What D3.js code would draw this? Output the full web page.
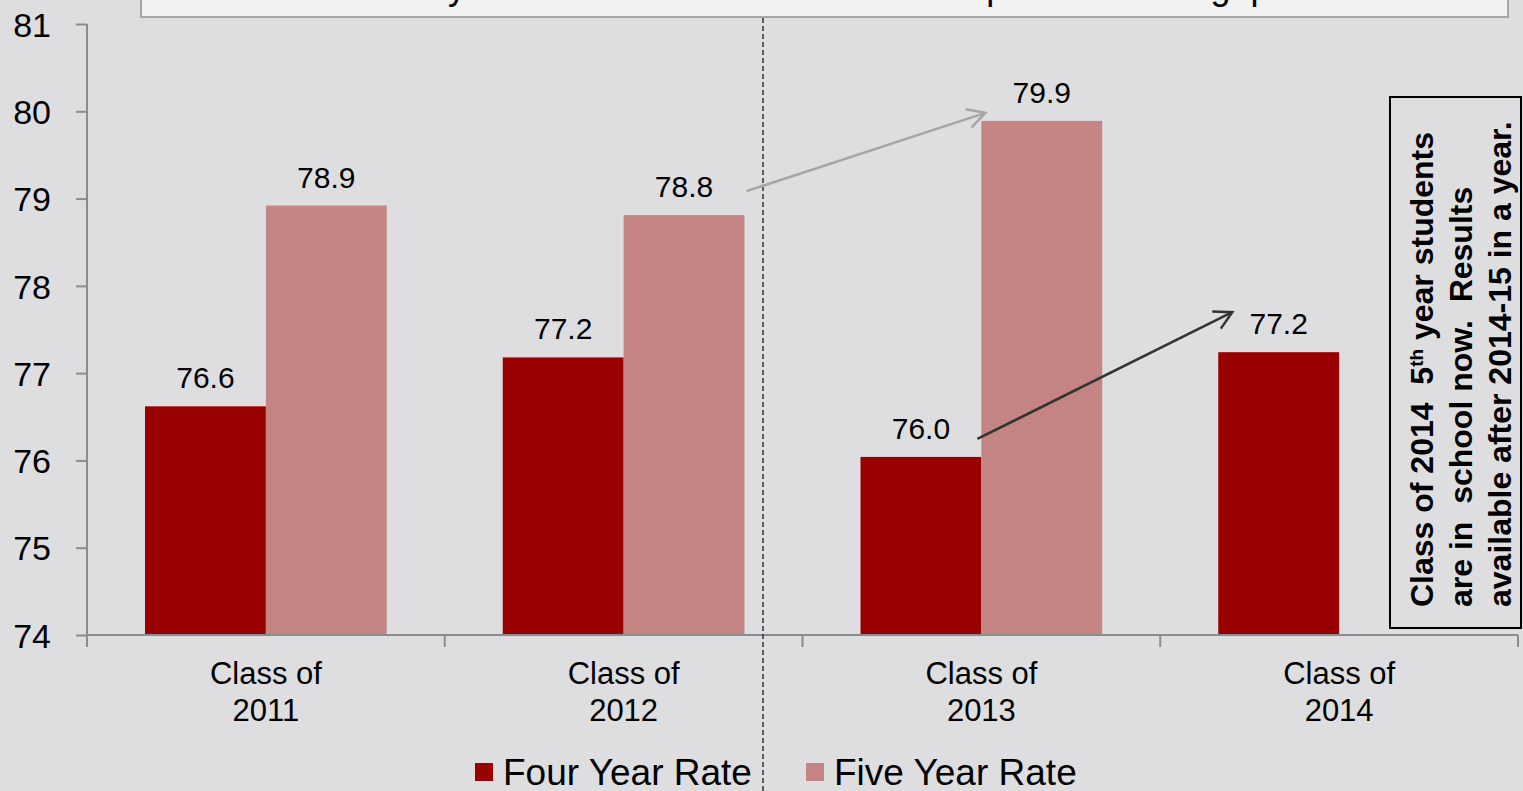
<!DOCTYPE html>
<html>
<head>
<meta charset="utf-8">
<title>Four and five year graduation rates</title>
<script src="https://d3js.org/d3.v7.min.js"></script>
<style>
  body { margin: 0; background: #dedee0; overflow: hidden; }
  svg { display: block; font-family: "Liberation Sans", Arial, sans-serif; }
  .note text { white-space: pre; }
</style>
</head>
<body>
<svg id="chart"></svg>
<script>
// data
var categories = ["Class of 2011", "Class of 2012", "Class of 2013", "Class of 2014"];
var seriesNames = ["Four Year Rate", "Five Year Rate"];
var fourYear = [76.62, 77.18, 76.04, 77.24];
var fiveYear = [78.92, 78.81, 79.89, null];
var yTicks = [74, 75, 76, 77, 78, 79, 80, 81];
var titleText = "A fifth year in school lifts the 2013 rate up to close the gap";
var noteLines = ["are in  school now.  Results", "available after 2014-15 in a year."];

var width = 1523, height = 791;
var colors = ["#990000", "#c48483"];

var svg = d3.select("#chart").attr("width", width).attr("height", height);
svg.append("rect").attr("width", width).attr("height", height).attr("fill", "#dedee0");

// scales
var x0 = d3.scaleBand().domain(categories).range([87, 1518]).paddingInner(0).paddingOuter(0);
var x1 = d3.scaleBand().domain(seriesNames).range([0, x0.bandwidth()]).paddingInner(0).paddingOuter(0.48);
var y = d3.scaleLinear().domain([74, 81]).range([635, 24]);
var fmt = d3.format(".1f");

// rows for bars
var rows = [];
categories.forEach(function(c, i) {
  rows.push({cat: c, series: seriesNames[0], value: fourYear[i]});
  if (fiveYear[i] != null) rows.push({cat: c, series: seriesNames[1], value: fiveYear[i]});
});

// title box at top (mostly cut off)
var clip = svg.append("clipPath").attr("id", "titleclip");
clip.append("rect").attr("x", 141).attr("y", 0).attr("width", 1367).attr("height", 17);
svg.append("rect")
    .attr("x", 141).attr("y", -5).attr("width", 1367).attr("height", 22)
    .attr("fill", "#f2f2f2").attr("stroke", "#a6a6a6").attr("stroke-width", 2);
svg.append("text")
    .attr("clip-path", "url(#titleclip)")
    .attr("x", 348).attr("y", -1)
    .style("font-size", "36px").attr("fill", "#000")
    .text(titleText);

// bars
svg.selectAll(".bar")
    .data(rows)
    .enter().append("rect")
    .attr("class", "bar")
    .attr("x", function(d) { return x0(d.cat) + x1(d.series); })
    .attr("y", function(d) { return y(d.value); })
    .attr("width", x1.bandwidth())
    .attr("height", function(d) { return y(74) - y(d.value); })
    .attr("fill", function(d) { return colors[seriesNames.indexOf(d.series)]; });

// value labels
svg.selectAll(".val")
    .data(rows)
    .enter().append("text")
    .attr("class", "val")
    .attr("x", function(d) { return x0(d.cat) + x1(d.series) + x1.bandwidth() / 2; })
    .attr("y", function(d) { return y(d.value) - 18; })
    .attr("text-anchor", "middle")
    .style("font-size", "30px")
    .text(function(d) { return fmt(d.value); });

// y axis
var yAxis = svg.append("g")
    .attr("transform", "translate(87,0)")
    .call(d3.axisLeft(y).tickValues(yTicks).tickFormat(d3.format("d"))
      .tickSize(11).tickSizeOuter(0).tickPadding(25));
yAxis.select(".domain").attr("stroke", "#8c8c8c").attr("stroke-width", 2).attr("d", "M0,24V647");
yAxis.selectAll(".tick line").attr("stroke", "#8c8c8c").attr("stroke-width", 2);
yAxis.selectAll(".tick text").style("font-size", "34px").attr("fill", "#000")
    .attr("font-family", "Liberation Sans, Arial, sans-serif").attr("dy", "0.36em");

// x axis: line plus ticks on band edges
svg.append("line")
    .attr("x1", 87).attr("x2", 1518).attr("y1", y(74)).attr("y2", y(74))
    .attr("stroke", "#8c8c8c").attr("stroke-width", 2);
svg.selectAll(".xtick")
    .data(categories.slice(1).concat(["end"]))
    .enter().append("line")
    .attr("x1", function(d) { return d === "end" ? x0.range()[1] : x0(d); })
    .attr("x2", function(d) { return d === "end" ? x0.range()[1] : x0(d); })
    .attr("y1", y(74)).attr("y2", y(74) + 12)
    .attr("stroke", "#8c8c8c").attr("stroke-width", 2);

var catLabels = svg.selectAll(".cat")
    .data(categories)
    .enter().append("text")
    .attr("class", "cat")
    .attr("text-anchor", "middle")
    .style("font-size", "31px");
catLabels.append("tspan")
    .attr("x", function(d) { return x0(d) + x0.bandwidth() / 2; })
    .attr("y", 684)
    .text(function(d) { return d.slice(0, 8); });
catLabels.append("tspan")
    .attr("x", function(d) { return x0(d) + x0.bandwidth() / 2; })
    .attr("y", 721)
    .text(function(d) { return d.slice(9); });

// dashed divider
svg.append("line")
    .attr("x1", 763).attr("x2", 763).attr("y1", 18).attr("y2", height)
    .attr("stroke", "#333").attr("stroke-width", 1.5).attr("stroke-dasharray", "5,3");

// arrows
function arrow(xa, ya, xb, yb, col) {
  svg.append("line").attr("x1", xa).attr("y1", ya).attr("x2", xb).attr("y2", yb)
      .attr("stroke", col).attr("stroke-width", 2.5);
  var ang = Math.atan2(yb - ya, xb - xa), L = 20, a = 0.5;
  var p1 = [xb - L * Math.cos(ang - a), yb - L * Math.sin(ang - a)];
  var p2 = [xb - L * Math.cos(ang + a), yb - L * Math.sin(ang + a)];
  svg.append("path")
      .attr("d", "M" + p1 + "L" + xb + "," + yb + "L" + p2)
      .attr("fill", "none").attr("stroke", col).attr("stroke-width", 2.5);
}
var bw = x1.bandwidth();
arrow(x0(categories[1]) + x1(seriesNames[1]) + bw + 2, y(fiveYear[1]) - 24,
      x0(categories[2]) + x1(seriesNames[1]) + 4, y(fiveYear[2]) - 8, "#a6a6a6");
arrow(x0(categories[2]) + x1(seriesNames[0]) + bw - 4, y(fourYear[2]) - 18,
      x0(categories[3]) + x1(seriesNames[0]) + 14, y(fourYear[3]) - 40, "#333333");

// note box on the right
svg.append("rect")
    .attr("x", 1390).attr("y", 97).attr("width", 131).attr("height", 531)
    .attr("fill", "none").attr("stroke", "#000").attr("stroke-width", 2);
var note = svg.append("g").attr("class", "note").style("font-size", "32px").style("font-weight", "bold");
var first = note.append("text").attr("transform", "translate(1433,607) rotate(-90)");
first.append("tspan").text("Class of 2014  5");
first.append("tspan").attr("baseline-shift", "super").style("font-size", "19px").text("th");
first.append("tspan").text(" year students");
noteLines.forEach(function(t, i) {
  note.append("text")
      .attr("transform", "translate(" + (1472 + i * 38.5) + ",607) rotate(-90)")
      .text(t);
});

// legend
var legend = svg.selectAll(".leg")
    .data(seriesNames)
    .enter().append("g")
    .attr("transform", function(d, i) { return "translate(" + [475, 806][i] + ",0)"; });
legend.append("rect").attr("x", 0).attr("y", 763).attr("width", 18).attr("height", 18)
    .attr("fill", function(d, i) { return colors[i]; });
legend.append("text").attr("x", 28).attr("y", 785).style("font-size", "37px").text(function(d) { return d; });
</script>
</body>
</html>
